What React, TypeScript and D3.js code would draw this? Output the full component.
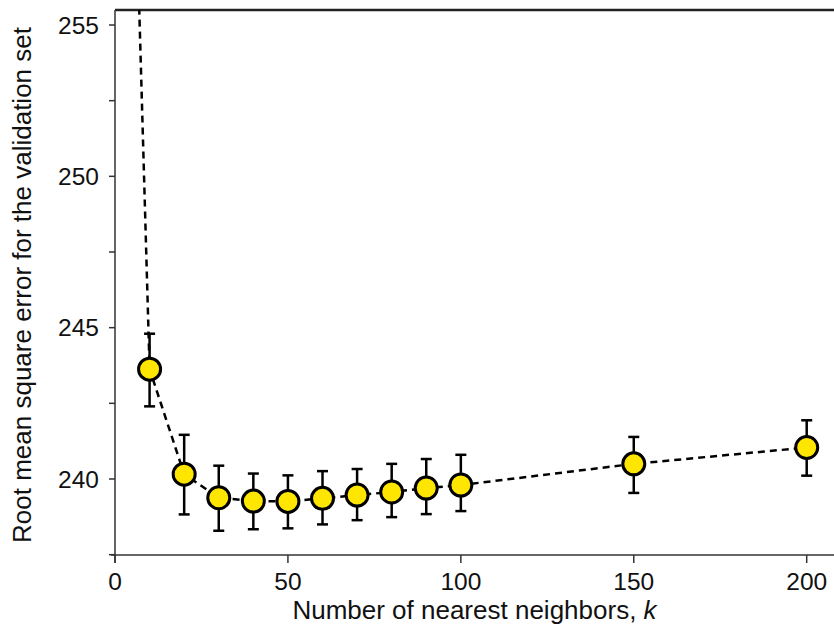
import React from "react";
import * as d3 from "d3";

const kValues = [10, 20, 30, 40, 50, 60, 70, 80, 90, 100, 150, 200];
const rmse = [243.63, 240.16, 239.38, 239.27, 239.26, 239.36, 239.47, 239.57, 239.7, 239.8, 240.5, 241.04];
const errLow = [242.4, 238.83, 238.29, 238.34, 238.37, 238.5, 238.64, 238.74, 238.84, 238.94, 239.54, 240.11];
const errHigh = [244.8, 241.46, 240.44, 240.18, 240.12, 240.26, 240.33, 240.5, 240.66, 240.8, 241.39, 241.94];
// the fit curve continues above the plot to smaller k
const lineLeadK = [5];
const lineLeadRmse = [263.5];

const xTicks = [0, 50, 100, 150, 200];
const yMajorTicks = [240, 245, 250, 255];
const yMinorTicks = [237.5, 242.5, 247.5, 252.5];

const W = 834;
const H = 636;
const left = 115;
const top = 10;
const right = 834;
const bottom = 555;

export default function App() {
  const x = d3.scaleLinear().domain([0, 200]).range([left, 806.7]);
  const y = d3.scaleLinear().domain([240, 255]).range([479, 25]);

  const linePts: [number, number][] = [
    ...lineLeadK.map((k, i) => [k, lineLeadRmse[i]] as [number, number]),
    ...kValues.map((k, i) => [k, rmse[i]] as [number, number]),
  ];
  const lineGen = d3
    .line<[number, number]>()
    .x((d) => x(d[0]))
    .y((d) => y(d[1]));

  const font = "Arial, 'Liberation Sans', sans-serif";
  const axisColor = "#333";

  return (
    <svg
      width={W}
      height={H}
      style={{ position: "absolute", left: 0, top: 0, background: "#fff" }}
      fontFamily={font}
    >
      <defs>
        <clipPath id="plot">
          <rect x={left} y={top} width={right - left} height={bottom - top} />
        </clipPath>
      </defs>

      {/* top frame */}
      <line x1={left} x2={right} y1={top} y2={top} stroke="#222" strokeWidth={2.5} />
      {/* axes */}
      <line x1={left} x2={left} y1={top} y2={bottom + 8} stroke={axisColor} strokeWidth={1.5} />
      <line x1={left - 4} x2={right} y1={bottom} y2={bottom} stroke={axisColor} strokeWidth={1.5} />

      {/* y ticks */}
      {yMajorTicks.concat(yMinorTicks).map((t) => (
        <line key={"yt" + t} x1={left - 6} x2={left} y1={y(t)} y2={y(t)} stroke={axisColor} strokeWidth={1.5} />
      ))}
      {yMajorTicks.map((t) => (
        <text key={"yl" + t} x={left - 16} y={y(t)} dy="0.36em" textAnchor="end" fontSize={24.5} fill="#111">
          {t}
        </text>
      ))}

      {/* x ticks */}
      {xTicks.map((t) => (
        <g key={"xt" + t}>
          <line x1={x(t)} x2={x(t)} y1={bottom} y2={bottom + 8} stroke={axisColor} strokeWidth={1.5} />
          <text x={x(t)} y={590} textAnchor="middle" fontSize={24.5} fill="#111">
            {t}
          </text>
        </g>
      ))}

      {/* axis titles */}
      <text x={474.5} y={619} textAnchor="middle" fontSize={26} fill="#111">
        Number of nearest neighbors, <tspan fontStyle="italic">k</tspan>
      </text>
      <text
        transform={`translate(31, 285) rotate(-90)`}
        textAnchor="middle"
        fontSize={26}
        fill="#111"
      >
        Root mean square error for the validation set
      </text>

      <g clipPath="url(#plot)">
        <path d={lineGen(linePts) || ""} fill="none" stroke="#000" strokeWidth={2.5} strokeDasharray="7,5" />
        {kValues.map((k, i) => (
          <g key={"eb" + k} stroke="#000" strokeWidth={2.5}>
            <line x1={x(k)} x2={x(k)} y1={y(errLow[i])} y2={y(errHigh[i])} />
            <line x1={x(k) - 5.5} x2={x(k) + 5.5} y1={y(errLow[i])} y2={y(errLow[i])} />
            <line x1={x(k) - 5.5} x2={x(k) + 5.5} y1={y(errHigh[i])} y2={y(errHigh[i])} />
          </g>
        ))}
        {kValues.map((k, i) => (
          <circle key={"pt" + k} cx={x(k)} cy={y(rmse[i])} r={11} fill="#FFE600" stroke="#000" strokeWidth={3} />
        ))}
      </g>
    </svg>
  );
}
